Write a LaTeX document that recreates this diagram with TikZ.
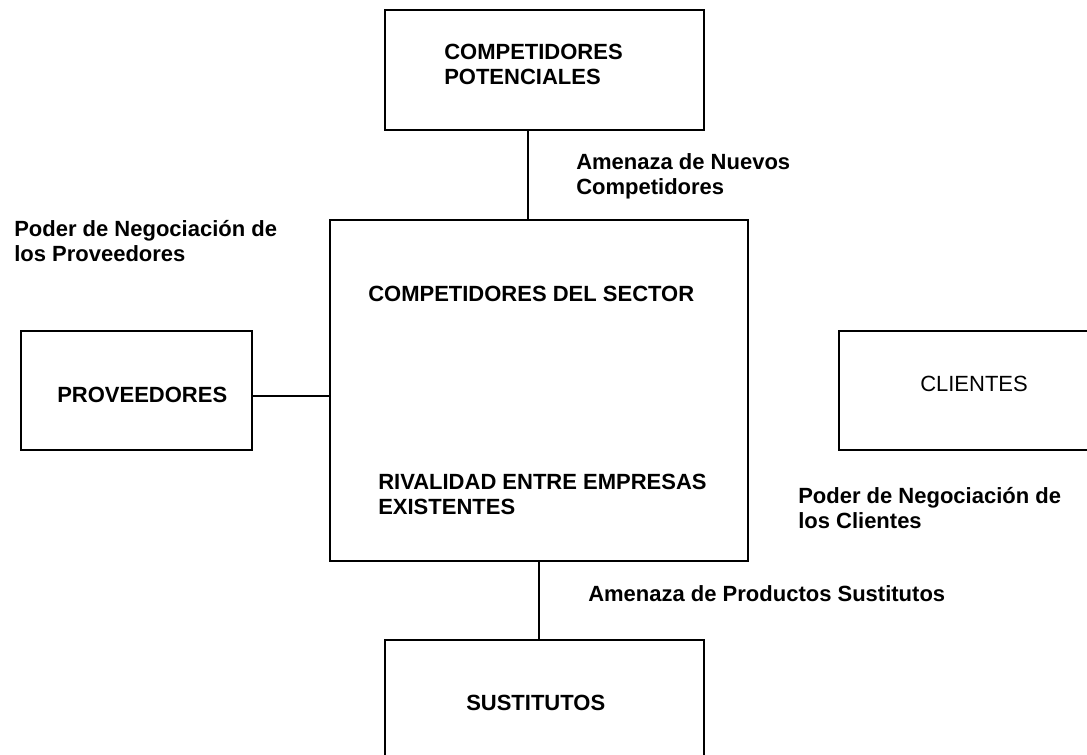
\documentclass[tikz,border=0pt]{standalone}
\usepackage{fontspec}
\setmainfont{Liberation Sans}
\begin{document}
\begin{tikzpicture}[x=1pt, y=-1pt, line width=2.5pt,
	box/.style={draw, rectangle, inner sep=0pt},
	lbl/.style={anchor=base west, inner sep=0pt, align=left, font=\fontsize{22}{24.5}\selectfont\bfseries},
	plainlbl/.style={anchor=base west, inner sep=0pt, font=\fontsize{22}{24.5}\selectfont}]

	\useasboundingbox (0, 0) rectangle (1087, 755);
	\clip (0, 0) rectangle (1087, 755);

	\node (potenciales) [box, minimum width=319pt, minimum height=120pt] at (544.5, 70) {};
	\node (sector) [box, minimum width=418pt, minimum height=341pt] at (539, 390.5) {};
	\node (proveedores) [box, minimum width=231pt, minimum height=119pt] at (136.5, 390.5) {};
	\node (clientes) [box, minimum width=261pt, minimum height=119pt] at (969.5, 390.5) {};
	\node (sustitutos) [box, minimum width=319pt, minimum height=125pt] at (544.5, 702.5) {};

	% two-line labels sit on the baseline of their last line
	\node (tpotenciales) [lbl] at (443, 84) {COMPETIDORES\\POTENCIALES};
	\node (tsector) [lbl] at (367, 301) {COMPETIDORES DEL SECTOR};
	\node (trivalidad) [lbl] at (377, 514) {RIVALIDAD ENTRE EMPRESAS\\EXISTENTES};
	\node (tproveedores) [lbl] at (56, 402) {PROVEEDORES};
	\node (tclientes) [plainlbl] at (919, 391) {CLIENTES};
	\node (tsustitutos) [lbl] at (465, 710) {SUSTITUTOS};

	\node (nuevos) [lbl] at (575, 194) {Amenaza de Nuevos\\Competidores};
	\node (poderprov) [lbl] at (13, 261) {Poder de Negociación de\\los Proveedores};
	\node (poderclie) [lbl] at (797, 528) {Poder de Negociación de\\los Clientes};
	\node (productos) [lbl] at (587, 601) {Amenaza de Productos Sustitutos};

	\coordinate (cnuevos) at (528, 0);
	\coordinate (cprov) at (0, 396);

	\draw (potenciales.south -| cnuevos) -- (sector.north -| cnuevos);
	\draw (proveedores.east |- cprov) -- (sector.west |- cprov);
	\draw (sector.south) -- (sector.south |- sustitutos.north);

\end{tikzpicture}
\end{document}
